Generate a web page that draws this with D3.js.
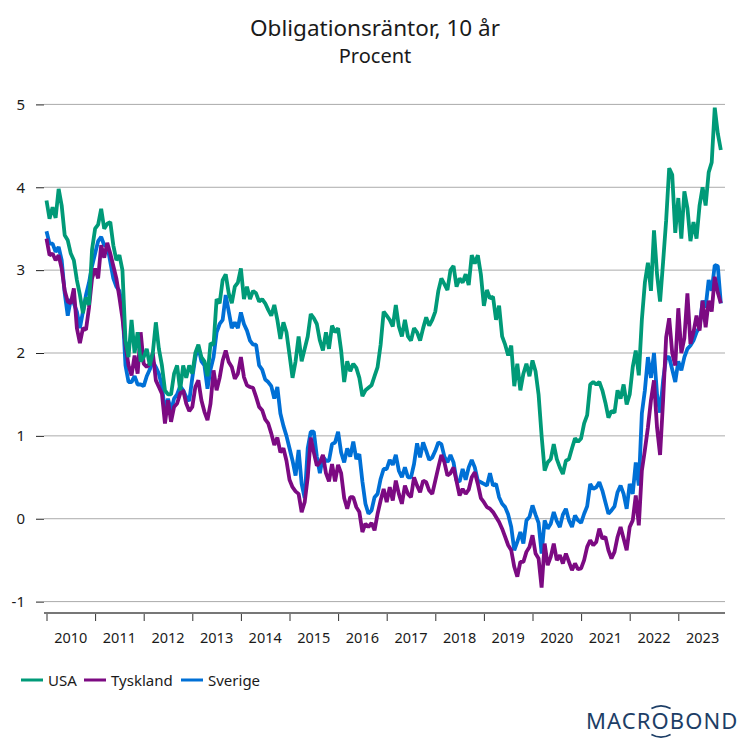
<!DOCTYPE html>
<html>
<head>
<meta charset="utf-8">
<script src="https://cdn.jsdelivr.net/npm/d3@7"></script>
<style>
  html, body { margin: 0; padding: 0; background: #fff; }
  text { font-family: "Noto Sans", sans-serif; fill: #1a1a1a; }
</style>
</head>
<body>
<script>
// readings per series, 16 points a year from start of 2010
var firstYear = 2010;
var pointsPerYear = 16;

var usa = [
  3.84,3.62,3.76,3.63,3.98,3.78,3.42,3.36,3.2,3.12,2.88,2.7,2.48,2.67,2.58,3.25,
  3.5,3.55,3.74,3.5,3.56,3.58,3.3,3.12,3.18,3.0,2.15,1.95,2.4,2.0,2.25,1.9,
  1.95,2.05,1.85,2.0,2.37,2.05,1.85,1.55,1.5,1.5,1.75,1.85,1.55,1.85,1.7,1.85,
  1.75,2.0,2.1,1.95,1.9,1.72,2.12,2.1,2.65,2.6,2.88,2.95,2.72,2.6,2.8,2.85,
  3.02,2.65,2.8,2.65,2.75,2.72,2.62,2.65,2.6,2.52,2.45,2.58,2.4,2.17,2.37,2.25,
  1.98,1.7,1.9,2.2,1.9,2.05,2.2,2.47,2.42,2.35,2.15,2.03,2.25,2.05,2.33,2.25,
  2.3,2.03,1.65,1.9,1.78,1.87,1.82,1.7,1.48,1.55,1.58,1.61,1.72,1.83,2.1,2.5,
  2.45,2.4,2.32,2.58,2.32,2.2,2.4,2.2,2.15,2.3,2.25,2.15,2.3,2.43,2.33,2.4,
  2.5,2.75,2.9,2.83,2.76,3.0,3.05,2.8,2.9,2.85,2.95,2.82,3.18,3.08,3.18,2.95,
  2.57,2.76,2.66,2.68,2.4,2.57,2.2,2.1,1.97,2.09,1.6,1.87,1.55,1.75,1.87,1.72,
  1.91,1.78,1.5,1.0,0.58,0.68,0.72,0.9,0.72,0.62,0.54,0.7,0.72,0.85,0.97,0.93,
  0.97,1.15,1.25,1.62,1.65,1.62,1.65,1.55,1.4,1.22,1.3,1.28,1.55,1.45,1.62,1.38,
  1.5,1.83,2.03,1.73,2.4,2.85,3.09,2.75,3.48,2.95,2.62,3.1,3.6,4.23,4.15,3.45,
  3.87,3.38,3.95,3.75,3.35,3.58,3.38,3.78,4.0,3.78,4.18,4.3,4.96,4.65,4.45
];

var tyskland = [
  3.38,3.18,3.2,3.12,3.18,3.02,2.75,2.62,2.6,2.78,2.3,2.12,2.3,2.28,2.55,2.9,
  3.02,2.9,3.3,3.15,3.33,3.2,3.05,2.9,2.67,2.42,2.1,1.85,1.73,1.97,1.75,2.25,
  1.87,1.83,1.87,2.0,1.67,1.59,1.51,1.15,1.43,1.17,1.35,1.39,1.51,1.55,1.39,1.3,
  1.35,1.59,1.67,1.43,1.29,1.19,1.39,1.79,1.55,1.7,1.91,2.03,1.89,1.83,1.69,1.75,
  1.95,1.71,1.61,1.59,1.58,1.47,1.35,1.31,1.2,1.15,1.03,0.89,0.98,0.8,0.85,0.7,
  0.47,0.38,0.33,0.3,0.08,0.2,0.5,0.98,0.8,0.64,0.68,0.77,0.55,0.45,0.66,0.45,
  0.65,0.55,0.25,0.12,0.26,0.26,0.14,0.08,-0.16,-0.06,-0.1,-0.05,-0.14,0.06,0.22,0.36,
  0.2,0.38,0.22,0.46,0.3,0.18,0.4,0.3,0.26,0.5,0.4,0.32,0.46,0.44,0.34,0.3,
  0.46,0.62,0.77,0.68,0.52,0.55,0.62,0.45,0.28,0.36,0.3,0.35,0.5,0.56,0.42,0.25,
  0.2,0.14,0.12,0.08,0.02,-0.04,-0.12,-0.22,-0.32,-0.38,-0.58,-0.7,-0.52,-0.52,-0.4,-0.34,
  -0.2,-0.42,-0.48,-0.83,-0.3,-0.56,-0.46,-0.3,-0.5,-0.44,-0.54,-0.42,-0.52,-0.62,-0.54,-0.61,
  -0.6,-0.5,-0.34,-0.26,-0.32,-0.28,-0.12,-0.24,-0.22,-0.38,-0.48,-0.4,-0.22,-0.1,-0.24,-0.38,
  -0.1,-0.02,0.28,-0.08,0.58,0.83,1.1,1.43,1.67,1.1,0.77,1.43,2.19,2.42,2.0,1.85,
  2.54,2.0,2.18,2.72,2.11,2.25,2.45,2.27,2.63,2.31,2.63,2.5,2.92,2.73,2.6
];

var sverige = [
  3.47,3.32,3.32,3.22,3.28,3.12,2.72,2.45,2.65,2.6,2.5,2.3,2.5,2.7,2.85,3.05,
  3.2,3.35,3.4,3.3,3.3,3.1,2.9,2.8,2.75,2.55,1.85,1.65,1.65,1.72,1.62,1.62,
  1.6,1.72,1.8,1.9,1.83,1.75,1.6,1.3,1.45,1.3,1.45,1.5,1.6,1.55,1.47,1.42,
  1.7,1.95,2.07,1.9,1.85,1.57,1.8,1.95,2.25,2.35,2.4,2.7,2.5,2.3,2.37,2.3,
  2.49,2.35,2.27,2.15,2.1,2.1,1.85,1.8,1.68,1.65,1.6,1.45,1.59,1.27,1.12,1.0,
  0.85,0.7,0.52,0.83,0.42,0.25,0.85,1.05,1.05,0.75,0.55,0.75,0.7,0.7,0.9,0.92,
  1.05,0.8,0.68,0.85,0.75,0.93,0.72,0.78,0.45,0.18,0.06,0.1,0.26,0.3,0.48,0.6,
  0.6,0.71,0.65,0.77,0.58,0.5,0.62,0.5,0.5,0.66,0.91,0.74,0.92,0.82,0.71,0.74,
  0.82,0.92,0.9,0.75,0.68,0.77,0.68,0.46,0.45,0.6,0.47,0.62,0.71,0.62,0.46,0.44,
  0.42,0.4,0.55,0.4,0.42,0.26,0.18,0.14,0.05,-0.1,-0.38,-0.28,-0.16,-0.3,-0.02,0.02,
  0.16,0.05,-0.05,-0.42,-0.02,-0.12,-0.06,0.08,-0.03,-0.1,0.05,0.12,-0.02,-0.1,0.04,-0.02,
  -0.05,0.06,0.15,0.42,0.36,0.38,0.44,0.34,0.2,0.06,0.1,0.15,0.32,0.4,0.3,0.12,
  0.42,0.3,0.68,0.4,1.27,1.55,1.95,1.7,2.0,1.5,1.28,1.67,1.95,1.95,1.8,1.65,
  1.9,1.79,1.95,2.05,2.09,2.15,2.25,2.31,2.63,2.55,2.88,2.75,3.06,3.05,2.6
];

var seriesNames = ['USA', 'Tyskland', 'Sverige'];
var seriesColors = ['#009a78', '#7c0a82', '#0070d6'];
var seriesValues = [usa, tyskland, sverige];
var drawOrder = [2, 1, 0];
var legendX = [21, 84, 181];

var yTicks = [-1, 0, 1, 2, 3, 4, 5];
var yearTicks = [2010, 2011, 2012, 2013, 2014, 2015, 2016, 2017, 2018, 2019, 2020, 2021, 2022, 2023];

var svg = d3.select('body').append('svg')
  .attr('width', 750)
  .attr('height', 750);

var x = d3.scaleLinear().domain([2010, 2024]).range([46.5, 726.9]);
var y = d3.scaleLinear().domain([-1, 5]).range([601.6, 104.4]);

svg.append('text')
  .attr('x', 375)
  .attr('y', 36)
  .attr('text-anchor', 'middle')
  .attr('font-size', 22.5)
  .text('Obligationsräntor, 10 år');

svg.append('text')
  .attr('x', 375)
  .attr('y', 63)
  .attr('text-anchor', 'middle')
  .attr('font-size', 20)
  .text('Procent');

// grid
svg.append('g').selectAll('line')
  .data(yTicks)
  .join('line')
  .attr('x1', 44)
  .attr('x2', 725)
  .attr('y1', d => y(d))
  .attr('y2', d => y(d))
  .attr('stroke', '#ababab')
  .attr('stroke-width', 1);

// y axis
var yAxis = svg.append('g')
  .attr('transform', 'translate(44,0)')
  .call(d3.axisLeft(y).tickValues(yTicks).tickSize(8).tickPadding(11).tickFormat(String));
yAxis.select('.domain').remove();
yAxis.selectAll('line').attr('stroke', '#222');
yAxis.selectAll('text').attr('font-size', 15).attr('font-family', '"Noto Sans", sans-serif').attr('fill', '#1a1a1a');

// x axis
var xAxis = svg.append('g')
  .attr('transform', 'translate(0,613)')
  .call(d3.axisBottom(x).tickValues(yearTicks).tickSize(8).tickFormat(''));
xAxis.select('.domain').remove();
xAxis.selectAll('line').attr('stroke', '#333');

svg.append('line')
  .attr('x1', 44)
  .attr('x2', 725)
  .attr('y1', 613)
  .attr('y2', 613)
  .attr('stroke', '#777')
  .attr('stroke-width', 2);

svg.append('g').selectAll('text')
  .data(yearTicks)
  .join('text')
  .attr('x', d => x(d + 0.5))
  .attr('y', 643)
  .attr('text-anchor', 'middle')
  .attr('font-size', 14.5)
  .text(d => d);

// series
var line = d3.line()
  .x((d, i) => x(firstYear + i / pointsPerYear))
  .y(d => y(d));

drawOrder.forEach(function (s) {
  svg.append('path')
    .attr('d', line(seriesValues[s]))
    .attr('fill', 'none')
    .attr('stroke', seriesColors[s])
    .attr('stroke-width', 3.8)
    .attr('stroke-linejoin', 'bevel');
});

// legend
seriesNames.forEach(function (name, i) {
  svg.append('line')
    .attr('x1', legendX[i])
    .attr('x2', legendX[i] + 22)
    .attr('y1', 680)
    .attr('y2', 680)
    .attr('stroke', seriesColors[i])
    .attr('stroke-width', 3);
  svg.append('text')
    .attr('x', legendX[i] + 27)
    .attr('y', 685.5)
    .attr('font-size', 15)
    .text(name);
});

// logo
var logo = svg.append('g').attr('fill', 'none').attr('stroke', '#1d3e66').attr('stroke-width', 1.6);
var logoArc = d3.arc().innerRadius(20).outerRadius(20);
logo.append('path')
  .attr('transform', 'translate(661,726)')
  .attr('d', logoArc({ startAngle: -0.5, endAngle: 0.5 }));
logo.append('path')
  .attr('transform', 'translate(661,717)')
  .attr('d', logoArc({ startAngle: Math.PI - 0.5, endAngle: Math.PI + 0.5 }));

svg.append('text')
  .attr('x', 586)
  .attr('y', 729)
  .attr('font-size', 22)
  .attr('letter-spacing', 1.1)
  .style('fill', '#1d3e66')
  .text('MACROBOND');
</script>
</body>
</html>
